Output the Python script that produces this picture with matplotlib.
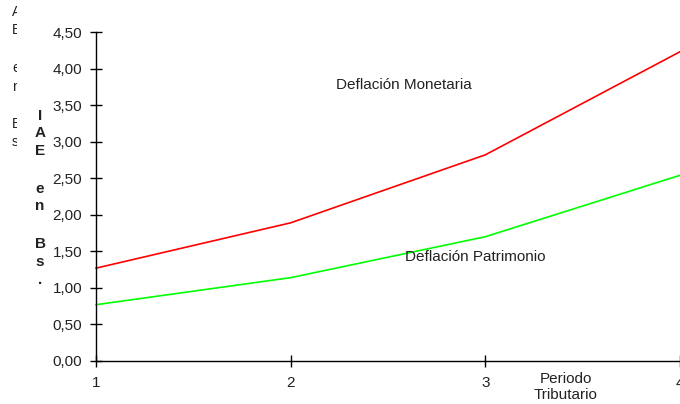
import matplotlib
matplotlib.use("Agg")
import matplotlib.pyplot as plt
from matplotlib.patches import Rectangle

plt.rcParams['font.family'] = ['Liberation Sans', 'DejaVu Sans']

periods = [1, 2, 3, 4]
monetaria = [1.27, 1.89, 2.82, 4.23]
patrimonio = [0.77, 1.14, 1.70, 2.54]
yticks = [0, 0.5, 1.0, 1.5, 2.0, 2.5, 3.0, 3.5, 4.0, 4.5]
ytick_labels = ["0,00", "0,50", "1,00", "1,50", "2,00", "2,50", "3,00", "3,50", "4,00", "4,50"]
xtick_labels = ["1", "2", "3", "4"]

W, H = 680, 404
fig = plt.figure(figsize=(W / 100, H / 100), dpi=100)
ax = fig.add_axes([96 / W, (H - 361) / H, 1 - 96 / W, (361 - 32) / H])

ax.plot(periods, monetaria, color='#FF0000', lw=1.2, clip_on=False)
ax.plot(periods, patrimonio, color='#00FF00', lw=1.2, clip_on=False)

ax.set_xlim(1, 4)
ax.set_ylim(0, 4.5)
ax.set_yticks(yticks)
ax.set_yticklabels(ytick_labels)
ax.set_xticks(periods)
ax.set_xticklabels(xtick_labels)
for s in ['top', 'right']:
    ax.spines[s].set_visible(False)
for s in ['left', 'bottom']:
    ax.spines[s].set_linewidth(1.0)
    ax.spines[s].set_color('black')
ax.tick_params(axis='both', direction='inout', length=8, width=1, labelsize=11,
               colors='black', labelcolor='#222222')
ax.tick_params(axis='y', pad=6)
ax.tick_params(axis='x', pad=7)

ax.text(2.58, 3.78, "Deflación Monetaria", fontsize=11, ha='center', va='center', color='#222222')
ax.text(2.95, 1.42, "Deflación Patrimonio", fontsize=11, ha='center', va='center', color='#222222')

def px(x, y):
    return x / W, 1 - y / H

# y-axis label (stacked letters)
ylab = [("I", 116), ("A", 133), ("E", 151), ("e", 189), ("n", 206), ("B", 244), ("s", 262), (".", 280)]
for ch, yy in ylab:
    fig.text(*px(40, yy), ch, fontsize=11, fontweight='bold', ha='center', va='center', color='#222222')

# x-axis title
fig.text(*px(566, 379), "Periodo", fontsize=11, ha='center', va='center', color='#222222')
fig.text(*px(566, 395), "Tributario", fontsize=11, ha='center', va='center', color='#222222')

# clipped letters on the far left
left_chars = [("A", 12), ("E", 30), ("e", 68), ("n", 87), ("B", 124), ("s", 142)]
for ch, yy in left_chars:
    t = fig.text(*px(12, yy), ch, fontsize=10, ha='left', va='center', color='#222222')
    r = Rectangle((0, 0), 17 / W, 1, transform=fig.transFigure, visible=False)
    fig.add_artist(r)
    t.set_clip_path(r)

fig.savefig("out.png", dpi=100)
